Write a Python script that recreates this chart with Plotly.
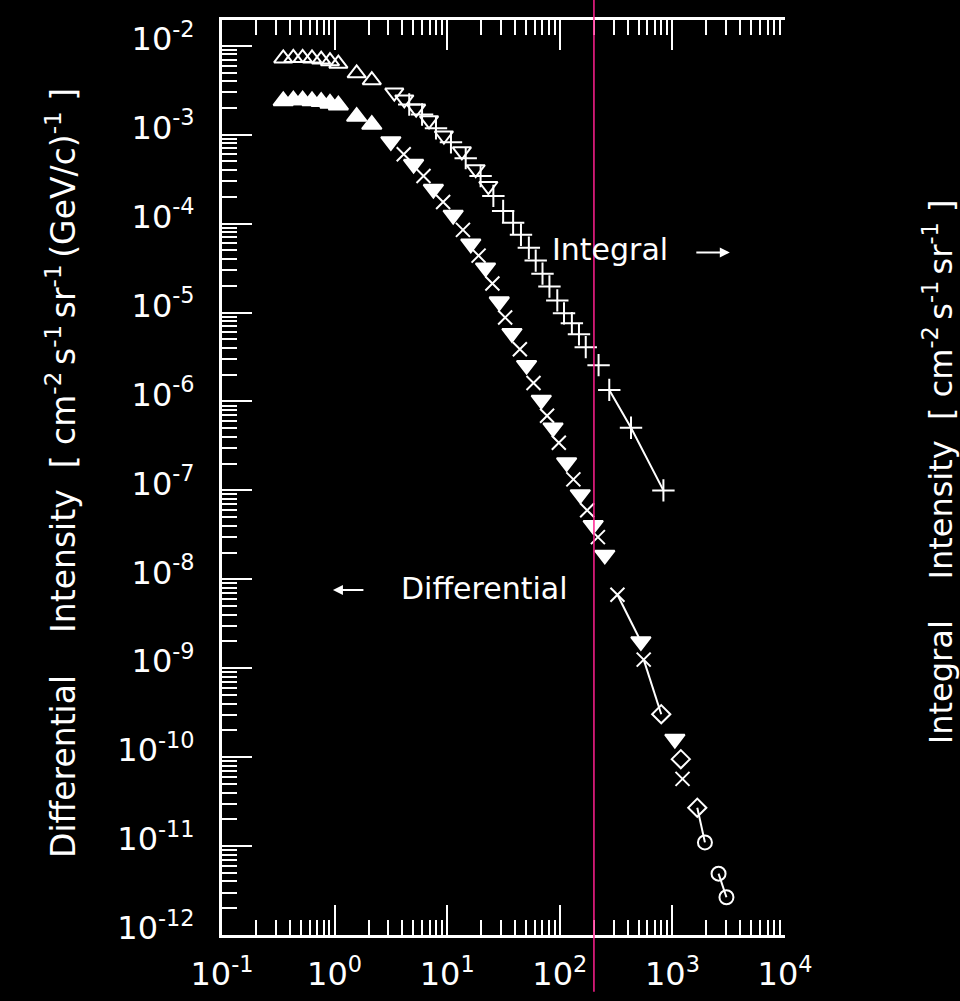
import plotly.graph_objects as go

# ---- Integral intensity [cm^-2 s^-1 sr^-1] vs momentum [GeV/c] ----
p_int_tri_up = [0.35, 0.43, 0.52, 0.63, 0.76, 0.91, 1.08, 1.57, 2.14]
j_int_tri_up = [7.2e-3, 7.3e-3, 7.3e-3, 7.2e-3, 7.0e-3, 6.7e-3, 6.3e-3, 4.9e-3, 4.1e-3]

p_int_tri_dn = [3.39, 4.16, 5.3, 6.9, 9.35, 13.5, 17.9, 23.2]
j_int_tri_dn = [2.98e-3, 2.49e-3, 1.97e-3, 1.45e-3, 9.8e-4, 6.5e-4, 4.1e-4, 2.65e-4]

p_int_plus = [4.6, 5.98, 7.95, 10.8, 14.6, 19.8, 25.7, 31.4, 38.5, 45.2, 53.1, 61.1,
              70.2, 80.9, 95, 109, 128, 148, 170, 221, 275, 429, 832]
j_int_plus = [2.19e-3, 1.69e-3, 1.18e-3, 8.2e-4, 5.45e-4, 3.43e-4, 2.05e-4, 1.39e-4,
              1.02e-4, 7.5e-5, 5.36e-5, 3.84e-5, 2.74e-5, 1.96e-5, 1.37e-5, 9.8e-6,
              7.6e-6, 5.7e-6, 4.08e-6, 2.56e-6, 1.35e-6, 5.07e-7, 1.0e-7]

# ---- Differential intensity [cm^-2 s^-1 sr^-1 (GeV/c)^-1] ----
p_dif_tri_up = [0.35, 0.43, 0.52, 0.63, 0.76, 0.91, 1.08, 1.57, 2.14]
j_dif_tri_up = [2.4e-3, 2.45e-3, 2.45e-3, 2.4e-3, 2.35e-3, 2.25e-3, 2.15e-3, 1.6e-3, 1.3e-3]

p_dif_tri_dn = [3.16, 5.03, 7.54, 11.3, 16.2, 21.9, 29.0, 37.6, 50.7, 68.5, 87.1,
                115, 152, 198, 251, 525, 1052]
j_dif_tri_dn = [8.4e-4, 4.67e-4, 2.45e-4, 1.25e-4, 5.94e-5, 3.2e-5, 1.33e-5, 5.85e-6,
                2.56e-6, 1.04e-6, 5.07e-7, 2.06e-7, 9.0e-8, 4.06e-8, 1.88e-8, 2.0e-9, 1.6e-10]

p_dif_cross = [4.11, 6.16, 9.2, 13.8, 19.0, 25.2, 32.7, 44.2, 58.4, 77.1, 98, 132,
               175, 218, 325, 556, 1230]
j_dif_cross = [6.04e-4, 3.43e-4, 1.75e-4, 8.5e-5, 4.37e-5, 2.12e-5, 8.8e-6, 3.87e-6,
               1.61e-6, 6.9e-7, 3.44e-7, 1.33e-7, 5.97e-8, 2.98e-8, 6.7e-9, 1.25e-9, 5.7e-11]

p_dif_diamond = [796, 1188, 1663]
j_dif_diamond = [3.04e-10, 9.5e-11, 2.7e-11]

p_dif_circle = [1945, 2570, 3020]
j_dif_circle = [1.1e-11, 4.9e-12, 2.66e-12]

# momentum marked by the vertical guide line [GeV/c]
p_marker_line = 201

x_tick_vals = [1e-1, 1e0, 1e1, 1e2, 1e3, 1e4]
x_tick_text = ["10<sup>-1</sup>", "10<sup>0</sup>", "10<sup>1</sup>", "10<sup>2</sup>",
               "10<sup>3</sup>", "10<sup>4</sup>"]
y_exponents = [-12, -11, -10, -9, -8, -7, -6, -5, -4, -3, -2]
y_tick_vals = [10.0 ** e for e in y_exponents]
y_tick_text = ["10<sup>%d</sup>" % e for e in y_exponents]

FONT = "DejaVu Sans"
WHITE = "#ffffff"
SP = "\u00a0"
THIN = "\u2009"

x_minor = [k * 10.0 ** n for n in range(-1, 4) for k in range(2, 10)]
y_minor = [k * 10.0 ** n for n in range(-12, -1) for k in range(2, 10)]

fig = go.Figure()


def add_points(x, y, symbol, size):
    fig.add_trace(go.Scatter(
        x=x, y=y, mode="markers",
        marker=dict(symbol=symbol, size=size, color=WHITE,
                    line=dict(color=WHITE, width=2)),
        showlegend=False, hoverinfo="skip"))


def add_segment(xs, ys):
    fig.add_trace(go.Scatter(x=xs, y=ys, mode="lines",
                             line=dict(color=WHITE, width=2),
                             showlegend=False, hoverinfo="skip"))


# connecting lines at high momentum
add_segment(p_int_plus[-3:], j_int_plus[-3:])
add_segment([p_dif_cross[-3], p_dif_tri_dn[-2]], [j_dif_cross[-3], j_dif_tri_dn[-2]])
add_segment([p_dif_cross[-2], p_dif_diamond[0]], [j_dif_cross[-2], j_dif_diamond[0]])
add_segment([p_dif_diamond[-1], p_dif_circle[0]], [j_dif_diamond[-1], j_dif_circle[0]])
add_segment(p_dif_circle[1:], j_dif_circle[1:])

add_points(p_int_tri_up, j_int_tri_up, "triangle-up-open", 16)
add_points(p_int_tri_dn, j_int_tri_dn, "triangle-down-open", 16)
add_points(p_int_plus, j_int_plus, "cross-thin-open", 16)
add_points(p_dif_tri_up, j_dif_tri_up, "triangle-up", 17)
add_points(p_dif_tri_dn, j_dif_tri_dn, "triangle-down", 17)
add_points(p_dif_cross, j_dif_cross, "x-thin-open", 14)
add_points(p_dif_diamond, j_dif_diamond, "diamond-open", 14)
add_points(p_dif_circle, j_dif_circle, "circle-open", 14)

fig.add_shape(type="line", xref="x", yref="paper",
              x0=p_marker_line, x1=p_marker_line, y0=-0.062, y1=1.03,
              line=dict(color="#ff1f8f", width=1.5))

tick_font = dict(family=FONT, size=32, color=WHITE)
y_range = [-12, -1.71]

common_axis = dict(
    type="log", showgrid=False, zeroline=False, automargin=False,
    showline=True, linecolor=WHITE, linewidth=3,
    ticks="inside", ticklen=30, tickwidth=2, tickcolor=WHITE,
    tickfont=tick_font,
)

fig.update_layout(
    width=960, height=1001,
    paper_bgcolor="black", plot_bgcolor="black",
    margin=dict(l=222, r=175, t=20, b=66),
    font=dict(family=FONT, color=WHITE),
    xaxis=dict(common_axis, range=[-1, 4], mirror="ticks",
               tickmode="array", tickvals=x_tick_vals, ticktext=x_tick_text,
               ticklabelstandoff=9,
               minor=dict(tickmode="array", tickvals=x_minor, ticks="inside",
                          ticklen=15, tickwidth=2, tickcolor=WHITE)),
    yaxis=dict(common_axis, range=y_range,
               tickmode="array", tickvals=y_tick_vals, ticktext=y_tick_text,
               ticklabelstandoff=18, ticklabelshift=-7,
               minor=dict(tickmode="array", tickvals=y_minor, ticks="inside",
                          ticklen=15, tickwidth=2, tickcolor=WHITE)),
    yaxis2=dict(common_axis, range=y_range, overlaying="y", side="right", anchor="x",
                tickmode="array", tickvals=y_tick_vals, ticktext=y_tick_text,
                ticklabelstandoff=14, ticklabelshift=-4,
                minor=dict(tickmode="array", tickvals=y_minor, ticks="inside",
                           ticklen=15, tickwidth=2, tickcolor=WHITE)),
)

# axis titles
left_title = ("Differential" + SP * 4 + "Intensity" + SP * 2 + "[" + SP + "cm<sup>-2</sup>" + THIN
              + "s<sup>-1</sup>" + THIN + "sr<sup>-1</sup>" + THIN + "(GeV/c)<sup>-1</sup>" + SP + "]")
right_title = ("Integral" + SP * 4 + "Intensity" + SP * 2 + "[" + SP + "cm<sup>-2</sup>" + THIN
               + "s<sup>-1</sup>" + THIN + "sr<sup>-1</sup>" + SP + "]")

fig.add_annotation(
    xref="paper", yref="paper", x=-0.284, y=0.505, xanchor="center", yanchor="middle",
    textangle=-90, showarrow=False, text=left_title,
    font=dict(family=FONT, size=33, color=WHITE))
fig.add_annotation(
    xref="paper", yref="paper", x=1.272, y=0.506, xanchor="center", yanchor="middle",
    textangle=-90, showarrow=False, text=right_title,
    font=dict(family=FONT, size=32, color=WHITE))

# curve labels with arrows
fig.add_annotation(xref="paper", yref="paper", x=0.689, y=0.749,
                   xanchor="center", yanchor="middle", showarrow=False,
                   text="Integral", font=dict(family=FONT, size=30, color=WHITE))
fig.add_annotation(xref="paper", yref="paper", x=0.902, y=0.746, text="",
                   showarrow=True, ax=-35, ay=0, arrowhead=2, arrowsize=1,
                   arrowwidth=2, arrowcolor=WHITE, standoff=0)
fig.add_annotation(xref="paper", yref="paper", x=0.467, y=0.379,
                   xanchor="center", yanchor="middle", showarrow=False,
                   text="Differential", font=dict(family=FONT, size=30, color=WHITE))
fig.add_annotation(xref="paper", yref="paper", x=0.197, y=0.377, text="",
                   showarrow=True, ax=32, ay=0, arrowhead=2, arrowsize=1,
                   arrowwidth=2, arrowcolor=WHITE, standoff=0)

fig.write_html("out.html")
